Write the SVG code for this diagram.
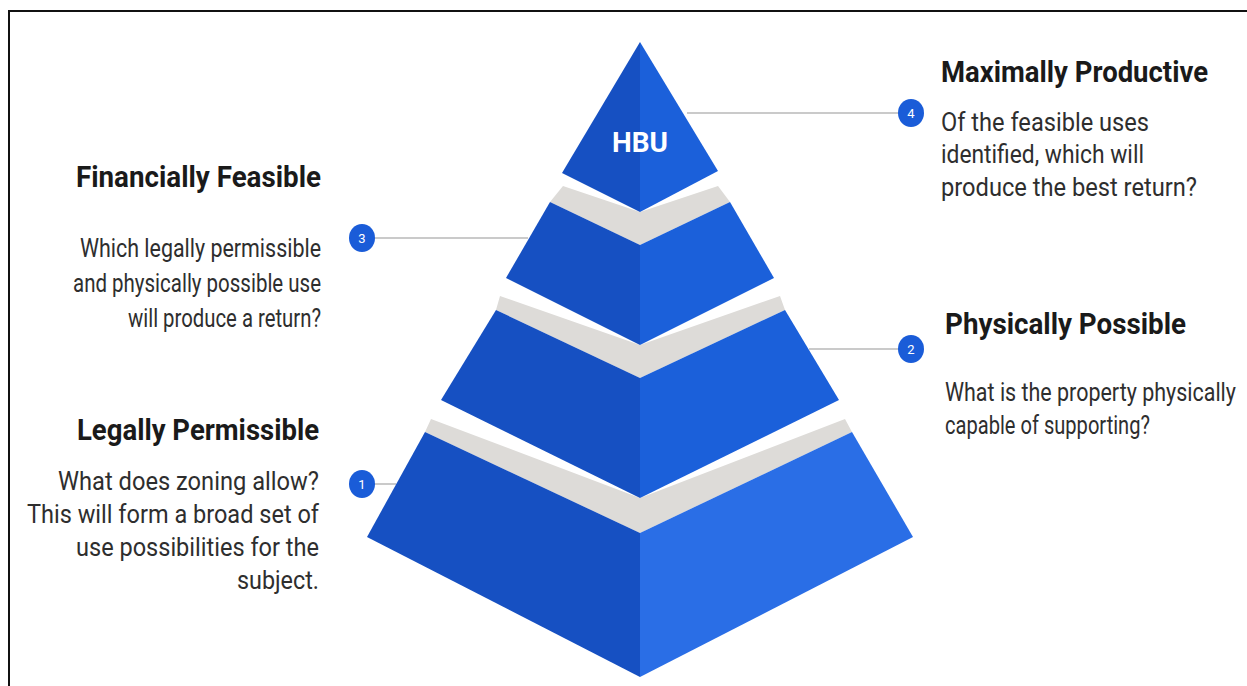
<svg xmlns="http://www.w3.org/2000/svg" width="1247" height="686" viewBox="0 0 1247 686">
<style>
.title{font-family:Roboto,"Liberation Sans",sans-serif;font-weight:700;font-size:29px;fill:#1a1a1a}
.body{font-family:Roboto,"Liberation Sans",sans-serif;font-weight:400;font-size:26px;fill:#2e2e2e}
.lf{fill:#1650c2}
.rf{fill:#1b60da}
.rf1{fill:#2a6ee6}
.band{fill:#dddbd8}
.conn{stroke:#b8b8b8;stroke-width:1.5;fill:none}
.badge{fill:#1a5cd8}
.num{font-family:Roboto,"Liberation Sans",sans-serif;font-size:13px;fill:#ffffff;text-anchor:middle}
.hbu{font-family:Roboto,"Liberation Sans",sans-serif;font-weight:700;font-size:28px;fill:#ffffff;text-anchor:middle}
</style>
<rect x="0" y="0" width="1247" height="686" fill="#ffffff"/>
<path d="M9,690 L9,11 L1250,11" fill="none" stroke="#111111" stroke-width="2"/>

<g id="connectors">
<line class="conn" x1="687" y1="113" x2="899" y2="113"/>
<line class="conn" x1="374" y1="238" x2="528" y2="238"/>
<line class="conn" x1="809" y1="349" x2="899" y2="349"/>
<line class="conn" x1="374" y1="484" x2="396" y2="484"/>
</g>

<g id="tier1">
<polygon class="band" points="431,419 640,498 845,419 852,432 640,533 425,432"/>
<polygon class="lf" points="425,432 640,533 640,677 367,537"/>
<polygon class="rf1" points="640,533 852,432 913,537 640,677"/>
</g>
<g id="tier2">
<polygon class="band" points="500,296 640,345 780,296 785,310 640,378 496,310"/>
<polygon class="lf" points="496,310 640,378 640,498 441,400"/>
<polygon class="rf" points="640,378 785,310 839,400 640,498"/>
</g>
<g id="tier3">
<polygon class="band" points="563,186 640,212 718,186 730,202 640,245 550,202"/>
<polygon class="lf" points="550,202 640,245 640,345 506,278"/>
<polygon class="rf" points="640,245 730,202 774,278 640,345"/>
</g>
<g id="tier4">
<polygon class="lf" points="640,42 562,173 640,212"/>
<polygon class="rf" points="640,42 718,171 640,212"/>
<text class="hbu" x="640" y="152" textLength="56" lengthAdjust="spacingAndGlyphs">HBU</text>
</g>

<g id="badge4">
<ellipse class="badge" cx="911" cy="113" rx="13" ry="14"/>
<text class="num" x="911" y="118">4</text>
</g>
<g id="badge3">
<ellipse class="badge" cx="362" cy="238" rx="13" ry="14"/>
<text class="num" x="362" y="243">3</text>
</g>
<g id="badge2">
<ellipse class="badge" cx="911" cy="349" rx="13" ry="14"/>
<text class="num" x="911" y="354">2</text>
</g>
<g id="badge1">
<ellipse class="badge" cx="362" cy="484" rx="13" ry="14"/>
<text class="num" x="362" y="489">1</text>
</g>

<g id="label-maximally-productive">
<text class="title" x="941" y="82" textLength="267" lengthAdjust="spacingAndGlyphs">Maximally Productive</text>
<text class="body" x="941" y="131" textLength="208" lengthAdjust="spacingAndGlyphs">Of the feasible uses</text>
<text class="body" x="941" y="163" textLength="203" lengthAdjust="spacingAndGlyphs">identified, which will</text>
<text class="body" x="941" y="196" textLength="256" lengthAdjust="spacingAndGlyphs">produce the best return?</text>
</g>

<g id="label-financially-feasible" text-anchor="end">
<text class="title" x="321" y="187" textLength="245" lengthAdjust="spacingAndGlyphs">Financially Feasible</text>
<text class="body" x="321" y="257" textLength="241" lengthAdjust="spacingAndGlyphs">Which legally permissible</text>
<text class="body" x="321" y="292" textLength="248" lengthAdjust="spacingAndGlyphs">and physically possible use</text>
<text class="body" x="321" y="327" textLength="193" lengthAdjust="spacingAndGlyphs">will produce a return?</text>
</g>

<g id="label-physically-possible">
<text class="title" x="945" y="334" textLength="241" lengthAdjust="spacingAndGlyphs">Physically Possible</text>
<text class="body" x="945" y="401" textLength="291" lengthAdjust="spacingAndGlyphs">What is the property physically</text>
<text class="body" x="945" y="434" textLength="205" lengthAdjust="spacingAndGlyphs">capable of supporting?</text>
</g>

<g id="label-legally-permissible" text-anchor="end">
<text class="title" x="319" y="440" textLength="242" lengthAdjust="spacingAndGlyphs">Legally Permissible</text>
<text class="body" x="319" y="490" textLength="261" lengthAdjust="spacingAndGlyphs">What does zoning allow?</text>
<text class="body" x="319" y="523" textLength="292" lengthAdjust="spacingAndGlyphs">This will form a broad set of</text>
<text class="body" x="319" y="556" textLength="243" lengthAdjust="spacingAndGlyphs">use possibilities for the</text>
<text class="body" x="319" y="589" textLength="82" lengthAdjust="spacingAndGlyphs">subject.</text>
</g>
</svg>
